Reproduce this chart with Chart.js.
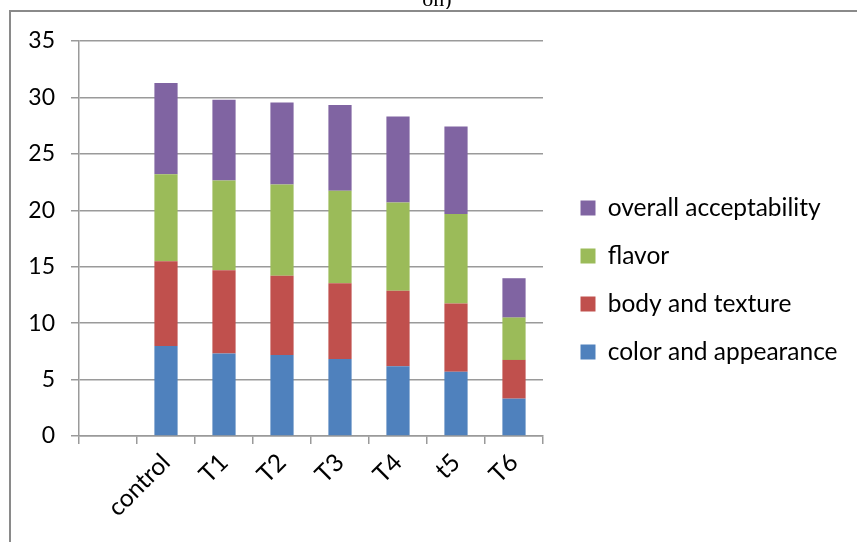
<!DOCTYPE html>
<html>
<head>
<meta charset="utf-8">
<script src="https://cdn.jsdelivr.net/npm/chart.js@4/dist/chart.umd.min.js"></script>
<style>
  html, body { margin: 0; padding: 0; background: #fff; }
  canvas { display: block; }
</style>
</head>
<body>
<canvas id="c" width="857" height="542"></canvas>
<script>
// Sensory scores per treatment (stacked)
const categories = ['', 'control', 'T1', 'T2', 'T3', 'T4', 't5', 'T6'];
const colorAppearance = [null, 7.98, 7.30, 7.18, 6.83, 6.18, 5.70, 3.31];
const bodyTexture = [null, 7.51, 7.39, 7.03, 6.71, 6.70, 6.03, 3.43];
const flavor = [null, 7.71, 7.94, 8.07, 8.18, 7.81, 7.95, 3.75];
const overallAcceptability = [null, 8.07, 7.16, 7.27, 7.62, 7.62, 7.74, 3.49];
const yTickValues = [0, 5, 10, 15, 20, 25, 30, 35];

const FONT = 'Lato, "Open Sans", sans-serif';
const GRID = '#9a9a9a';
const LEGEND_WIDTH = 314;   // space reserved on the right for the legend
const LEGEND_INSET = 14;    // gap between plot edge and legend block

// Frame border and the clipped caption line above it
const framePlugin = {
  id: 'frame',
  afterDraw(chart) {
    const ctx = chart.ctx;
    ctx.save();
    ctx.strokeStyle = '#8a8a8a';
    ctx.lineWidth = 2;
    ctx.beginPath();
    ctx.moveTo(10, 542);
    ctx.lineTo(10, 11);
    ctx.lineTo(857, 11);
    ctx.stroke();
    ctx.beginPath();
    ctx.rect(0, 0, 857, 9);
    ctx.clip();
    ctx.fillStyle = '#000';
    ctx.font = '22px "Liberation Serif", serif';
    ctx.textAlign = 'center';
    ctx.textBaseline = 'alphabetic';
    ctx.fillText('on)', 437, 6);
    ctx.restore();
  }
};

// Give the right-hand legend a fixed width and nudge it off the plot edge
const legendBoxPlugin = {
  id: 'legendBox',
  beforeLayout(chart) {
    const legend = chart.legend;
    if (legend && !legend._fixedFit) {
      const fit = legend.fit.bind(legend);
      legend.fit = function () { fit(); this.width = LEGEND_WIDTH; };
      legend._fixedFit = true;
    }
  },
  afterLayout(chart) {
    const legend = chart.legend;
    if (legend) {
      legend.left += LEGEND_INSET;
      legend.right += LEGEND_INSET;
    }
  }
};

new Chart(document.getElementById('c'), {
  type: 'bar',
  data: {
    labels: categories,
    datasets: [
      { label: 'color and appearance', data: colorAppearance, backgroundColor: '#4F81BD' },
      { label: 'body and texture', data: bodyTexture, backgroundColor: '#C0504D' },
      { label: 'flavor', data: flavor, backgroundColor: '#9BBB59' },
      { label: 'overall acceptability', data: overallAcceptability, backgroundColor: '#8064A2' }
    ]
  },
  options: {
    responsive: false,
    animation: false,
    devicePixelRatio: 1,
    layout: { padding: { left: 0, top: 41, right: 0, bottom: 23 } },
    datasets: { bar: { categoryPercentage: 1, barPercentage: 0.4 } },
    plugins: {
      title: { display: false },
      tooltip: { enabled: false },
      legend: {
        position: 'right',
        reverse: true,
        labels: {
          boxWidth: 15,
          boxHeight: 15,
          padding: 23.5,
          color: '#000',
          font: { family: FONT, size: 24.5 }
        }
      }
    },
    scales: {
      x: {
        stacked: true,
        afterFit(scale) { scale.height = 83; },
        grid: { offset: true, drawOnChartArea: false, tickLength: 8, color: GRID, lineWidth: 1.5 },
        border: { color: GRID, width: 1.5 },
        ticks: {
          autoSkip: false, minRotation: 45, maxRotation: 45, padding: 4,
          color: '#000', font: { family: FONT, size: 24.5 }
        }
      },
      y: {
        stacked: true,
        min: 0,
        max: 35,
        afterFit(scale) { scale.width = 79; },
        afterBuildTicks(scale) { scale.ticks = yTickValues.map(v => ({ value: v })); },
        grid: { tickLength: 8, color: GRID, lineWidth: 1.5 },
        border: { color: GRID, width: 1.5 },
        ticks: { padding: 16, color: '#000', font: { family: FONT, size: 23 } }
      }
    }
  },
  plugins: [framePlugin, legendBoxPlugin]
});
</script>
</body>
</html>
